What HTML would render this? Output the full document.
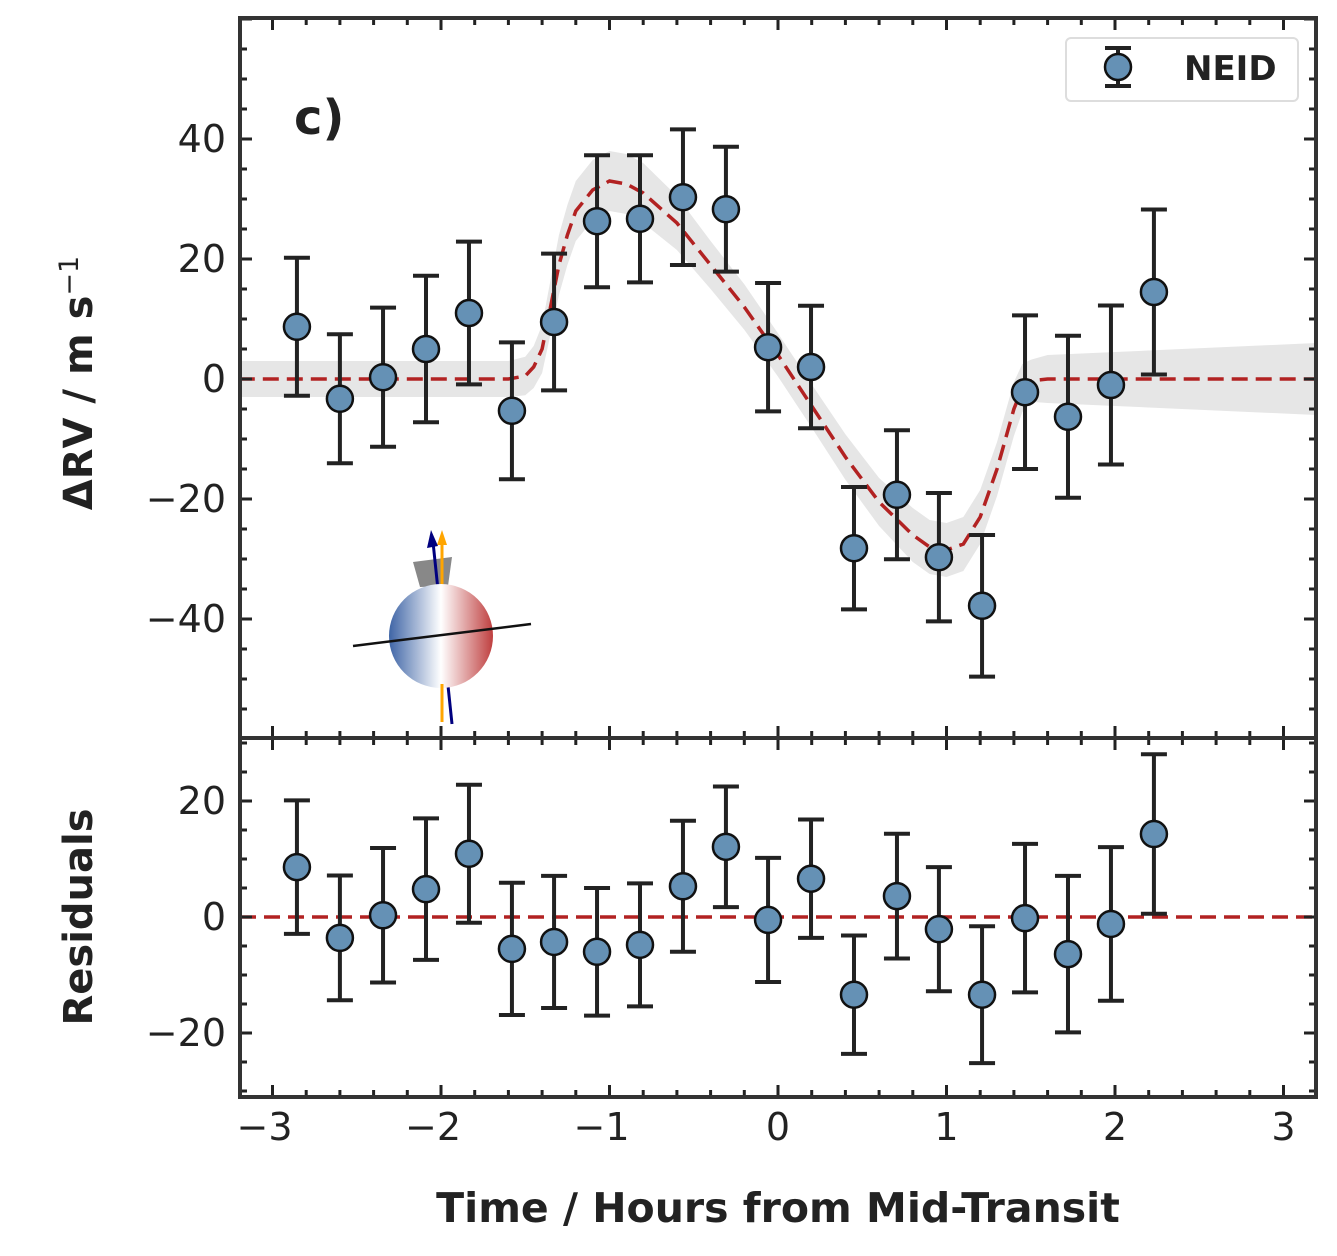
<!DOCTYPE html>
<html><head><meta charset="utf-8"><style>
body{margin:0;background:#fff}
svg text{font-family:"DejaVu Sans","Liberation Sans",sans-serif;fill:#222}
</style></head><body>
<svg id="c" width="1337" height="1251" viewBox="0 0 1337 1251" xmlns="http://www.w3.org/2000/svg">
<defs>
<linearGradient id="sg" x1="0" x2="1" y1="0" y2="0">
<stop offset="0" stop-color="#3f65a6"/><stop offset="0.5" stop-color="#ffffff"/><stop offset="1" stop-color="#bf3f3f"/>
</linearGradient>
<clipPath id="ct"><rect x="240" y="18" width="1076" height="720"/></clipPath>
<clipPath id="cb"><rect x="240" y="738" width="1076" height="359"/></clipPath>
</defs>
<g id="layer"></g>
</svg>
<script>
const times=[-2.855,-2.60,-2.344,-2.089,-1.834,-1.579,-1.329,-1.074,-0.819,-0.564,-0.309,-0.059,0.196,0.451,0.706,0.955,1.211,1.466,1.721,1.976,2.231];
const rv=[8.7,-3.3,0.3,5.0,11.0,-5.3,9.5,26.3,26.7,30.3,28.3,5.3,2.0,-28.2,-19.3,-29.7,-37.8,-2.2,-6.3,-1.0,14.5];
const rvErr=[11.5,10.75,11.6,12.2,11.9,11.4,11.4,11,10.6,11.3,10.4,10.7,10.2,10.2,10.75,10.7,11.8,12.8,13.5,13.25,13.75];
const resid=[8.6,-3.6,0.3,4.8,10.9,-5.5,-4.3,-6.0,-4.8,5.3,12.1,-0.5,6.6,-13.4,3.6,-2.1,-13.4,-0.2,-6.4,-1.2,14.3];
const modelT=[-3.2,-1.6,-1.5,-1.45,-1.4,-1.35,-1.3,-1.25,-1.2,-1.1,-1.0,-0.9,-0.8,-0.6,-0.4,-0.2,0,0.2,0.4,0.6,0.8,0.9,1.0,1.1,1.2,1.3,1.35,1.4,1.45,1.5,1.6,3.2];
const modelRV=[0,0,0.5,2,5,12,19,24,28,31.5,33,32.5,31,26,19,12,4,-4.5,-13,-20.5,-26,-28,-28.5,-27.5,-23,-15,-10,-5,-1.5,-0.3,0,0];
const bandW=[3,3,3.2,3.5,4,4.5,5,5,5,5,5,5,5,4.5,4,3.8,3.6,3.6,3.8,4,4.5,4.5,4.5,4.5,4.5,4.5,4.5,4.5,4,3.5,4,6];
const xTicks=[-3,-2,-1,0,1,2,3];
const yTicksTop=[-40,-20,0,20,40];
const yTicksBot=[-20,0,20];

const NS="http://www.w3.org/2000/svg";
const L=document.getElementById('layer');
const X0=240,X1=1316,TT=18,TB=738,BB=1097;
const xs=t=>778+t*168.5;
const ysT=v=>379-v*6;
const ysB=v=>917-v*5.8;
function mk(tag,a,parent){const e=document.createElementNS(NS,tag);for(const k in a)e.setAttribute(k,a[k]);(parent||L).appendChild(e);return e;}

let pts=[];
for(let i=0;i<modelT.length;i++)pts.push(xs(modelT[i])+','+ysT(modelRV[i]+bandW[i]));
for(let i=modelT.length-1;i>=0;i--)pts.push(xs(modelT[i])+','+ysT(modelRV[i]-bandW[i]));
const band=mk('polygon',{points:pts.join(' '),fill:'#e6e6e6','clip-path':'url(#ct)'});


const md=mk('polyline',{points:modelT.map((t,i)=>xs(t)+','+ysT(modelRV[i])).join(' '),fill:'none',stroke:'#b22222','stroke-width':3.5,'stroke-dasharray':'16,8','clip-path':'url(#ct)'});


const zl=mk('line',{x1:X0,x2:X1,y1:ysB(0),y2:ysB(0),stroke:'#b22222','stroke-width':3.5,'stroke-dasharray':'16,8'});



const star=mk('g',{});


mk('path',{d:'M413,562 L452,557 L448,586 L420,587 Z',fill:'#888'},star);
mk('line',{x1:442,y1:722,x2:442,y2:540,stroke:'#ffa500','stroke-width':3},star);
mk('polygon',{points:'437,545 447,545 442,530',fill:'#ffa500'},star);
mk('line',{x1:452,y1:724,x2:433,y2:542,stroke:'#00007f','stroke-width':3},star);
mk('polygon',{points:'427,548 438,546 431,530',fill:'#00007f'},star);
mk('circle',{cx:441,cy:636,r:52,fill:'url(#sg)'},star);
mk('line',{x1:442,y1:684,x2:442,y2:722,stroke:'#ffa500','stroke-width':3},star);
mk('line',{x1:353,y1:646,x2:531,y2:624,stroke:'#111','stroke-width':2.5},star);

function points(vals,ys,nm){
 for(let i=0;i<times.length;i++){
  const g=mk('g',{});
  
  
  const x=xs(times[i]),y1=ys(vals[i]+rvErr[i]),y2=ys(vals[i]-rvErr[i]);
  mk('line',{x1:x,x2:x,y1:y1,y2:y2,stroke:'#222','stroke-width':4},g);
  mk('line',{x1:x-13,x2:x+13,y1:y1,y2:y1,stroke:'#222','stroke-width':4},g);
  mk('line',{x1:x-13,x2:x+13,y1:y2,y2:y2,stroke:'#222','stroke-width':4},g);
  mk('circle',{cx:x,cy:ys(vals[i]),r:13,fill:'#6591b5',stroke:'#111','stroke-width':2.5},g);
 }
}
points(rv,ysT,'rv');
points(resid,ysB,'residual');

function tk(x1,y1,x2,y2){mk('line',{x1,y1,x2,y2,stroke:'#222','stroke-width':3});}
for(let t=-3.2;t<=3.21;t+=0.2){
 const x=xs(t); if(x<X0||x>X1)continue;
 const maj=Math.abs(t-Math.round(t))<0.01;const l=maj?12:7;
 tk(x,TT,x,TT+l);tk(x,TB,x,TB-l);tk(x,TB,x,TB+l);tk(x,BB,x,BB-l);
}
for(let v=-55;v<=60;v+=5){const y=ysT(v);if(y<TT||y>TB)continue;const l=v%20==0?12:7;tk(X0,y,X0+l,y);tk(X1,y,X1-l,y);}
for(let v=-30;v<=30;v+=5){const y=ysB(v);if(y<TB||y>BB)continue;const l=v%20==0?12:7;tk(X0,y,X0+l,y);tk(X1,y,X1-l,y);}
const ax=mk('rect',{x:X0,y:TT,width:X1-X0,height:TB-TT,fill:'none',stroke:'#333','stroke-width':4});


const bx=mk('rect',{x:X0,y:TB,width:X1-X0,height:BB-TB,fill:'none',stroke:'#333','stroke-width':4});



function txt(s,a,nm){const e=mk('text',a);e.textContent=s;return e;}
const fmt=v=>v<0?'\u2212'+(-v):''+v;
xTicks.forEach(t=>txt(fmt(t),{x:xs(t)+(t<0?-8:0),y:1140,'font-size':38,'text-anchor':'middle'},'x-tick-label'));
yTicksTop.forEach(v=>txt(fmt(v),{x:226,y:ysT(v)+13,'font-size':38,'text-anchor':'end'},'y-tick-label'));
yTicksBot.forEach(v=>txt(fmt(v),{x:226,y:ysB(v)+13,'font-size':38,'text-anchor':'end'},'residual-tick-label'));
txt('Time / Hours from Mid-Transit',{x:778,y:1222,'font-size':41,'font-weight':'bold','text-anchor':'middle'},'x-axis-title');
const yt=txt('',{transform:'translate(92,383) rotate(-90)','font-size':40,'font-weight':'bold','text-anchor':'middle'},'y-axis-title');
yt.innerHTML='ΔRV / m s<tspan dy="-14" font-size="27" font-weight="normal">−1</tspan>';
txt('Residuals',{transform:'translate(92,917) rotate(-90)','font-size':40,'font-weight':'bold','text-anchor':'middle'},'residual-axis-title');
txt('c)',{x:294,y:134,'font-size':48,'font-weight':'bold'},'panel-label');

const lg=mk('g',{});


mk('rect',{x:1066,y:38,width:232,height:63,rx:5,fill:'#fff',stroke:'#ddd','stroke-width':2},lg);
mk('line',{x1:1118,x2:1118,y1:48,y2:86,stroke:'#222','stroke-width':4},lg);
mk('line',{x1:1105,x2:1131,y1:48,y2:48,stroke:'#222','stroke-width':4},lg);
mk('line',{x1:1105,x2:1131,y1:86,y2:86,stroke:'#222','stroke-width':4},lg);
mk('circle',{cx:1118,cy:67,r:13,fill:'#6591b5',stroke:'#111','stroke-width':2.5},lg);
txt('NEID',{x:1184,y:80,'font-size':34,'font-weight':'bold'},'legend-label');
</script>
</body></html>
